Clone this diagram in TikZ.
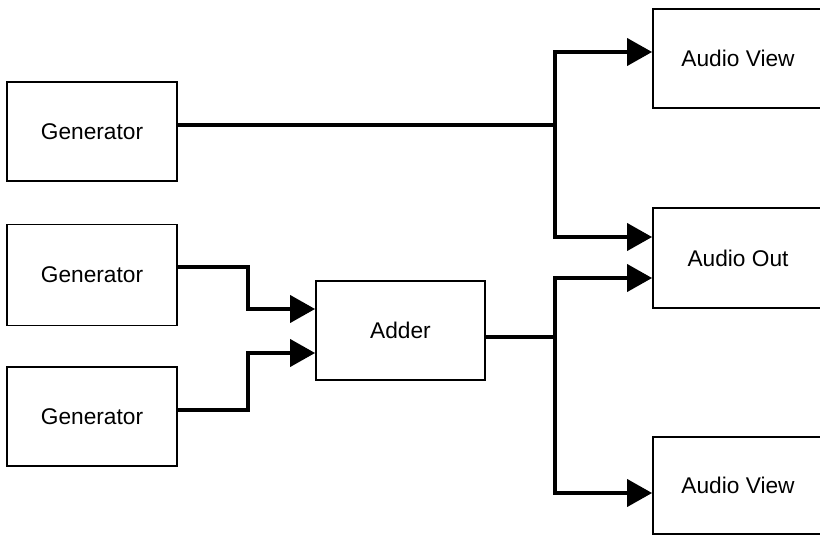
\documentclass[tikz,border=0pt]{standalone}
\usepackage{fontspec}
\setmainfont{Liberation Sans}
\usetikzlibrary{arrows.meta}
\begin{document}
\begin{tikzpicture}[x=1pt,y=-1pt,
  blk/.style={draw=black, line width=1.8pt, minimum width=170pt, inner sep=0pt,
    font=\fontsize{22.7}{27}\selectfont},
  conn/.style={line width=4pt, line join=miter,
    -{Triangle[length=25pt,width=27pt]}},
  plain/.style={line width=4pt, line join=miter}]
\useasboundingbox (0,0) rectangle (820,535);
\clip (0,0) rectangle (820,535);
\fill[white] (0,0) rectangle (820,535);
\node[blk, minimum height=99pt] (g1) at (92,131.5) {Generator};
\node[blk, minimum height=101pt] (g2) at (92,275) {Generator};
\node[blk, minimum height=99pt] (g3) at (92,416.5) {Generator};
\node[blk, minimum width=169pt, minimum height=99pt] (add) at (400.5,330.5) {Adder};
\node[blk, minimum height=99pt] (av1) at (738,58.5) {Audio View};
\node[blk, minimum height=100pt] (ao) at (738,258) {Audio Out};
\node[blk, minimum height=97pt] (av2) at (738,485.5) {Audio View};
\coordinate (j1) at (555,125);
\coordinate (j2) at (555,337);
\draw[plain] ([yshift=6.5pt]g1.east) -- (j1);
\draw[conn] (j1) |- ([yshift=6.5pt]av1.west);
\draw[conn] (j1) |- ([yshift=21pt]ao.west);
\draw[conn] ([yshift=8pt]g2.east) -- ++(70,0) |- ([yshift=21.5pt]add.west);
\draw[conn] ([yshift=6.5pt]g3.east) -- ++(70,0) |- ([yshift=-22.5pt]add.west);
\draw[plain] ([yshift=-6.5pt]add.east) -- (j2);
\draw[conn] (j2) |- ([yshift=-20pt]ao.west);
\draw[conn] (j2) |- ([yshift=-7.5pt]av2.west);
\end{tikzpicture}
\end{document}
